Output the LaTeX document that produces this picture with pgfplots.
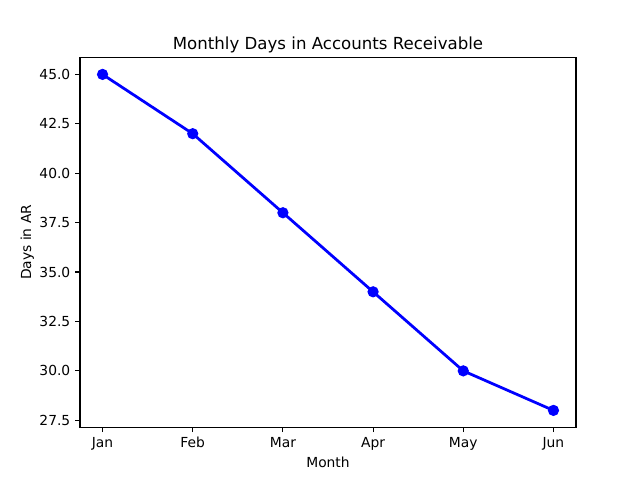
\documentclass[border=0pt]{standalone}
\usepackage{fontspec}
\setmainfont{DejaVu Sans}
\usepackage{pgfplots}
\pgfplotsset{compat=1.18}

\begin{document}
\begin{tikzpicture}
\useasboundingbox (-0.8in,-0.528in) rectangle (5.6in,4.272in);
\begin{axis}[
    at={(0,0)}, anchor=south west,
    scale only axis,
    width=4.96in, height=3.696in,
    xmin=-0.25, xmax=5.25,
    ymin=27.15, ymax=45.85,
    xtick={0,1,2,3,4,5},
    xticklabels={Jan,Feb,Mar,Apr,May,Jun},
    ytick={27.5,30,32.5,35,37.5,40,42.5,45},
    yticklabel style={/pgf/number format/.cd,fixed,fixed zerofill,precision=1},
    /pgf/number format/assume math mode=true,
    tick align=outside,
    tick pos=left,
    major tick length=3.5pt,
    tick style={black, line width=0.8pt},
    axis line style={line width=0.8pt},
    ticklabel style={font=\fontsize{10}{12}\selectfont},
    xlabel={Month}, ylabel={Days in AR},
    label style={font=\fontsize{10}{12}\selectfont},
    xlabel style={yshift=1.5pt},
    ylabel style={yshift=-3pt},
    title={Monthly Days in Accounts Receivable},
    title style={font=\fontsize{12}{14}\selectfont, yshift=-6pt},
]
\addplot[blue, line width=2pt, mark=*, mark size=3pt, mark options={solid, fill=blue}] coordinates {
    (0,45) (1,42) (2,38) (3,34) (4,30) (5,28)
};
\end{axis}
\end{tikzpicture}
\end{document}
